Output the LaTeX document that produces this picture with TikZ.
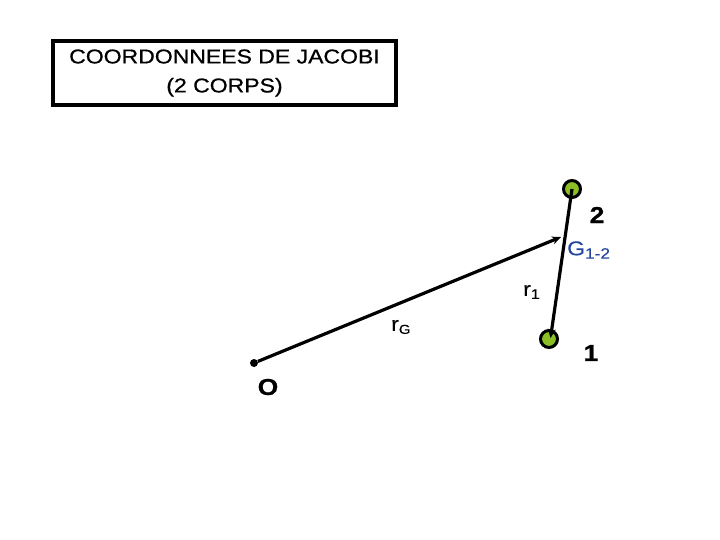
\documentclass[tikz,border=0pt]{standalone}
\usepackage{fontspec}
\setmainfont[FakeStretch=1.15,FakeBold=0.8]{Liberation Sans}
\newfontfamily\lblfont[FakeStretch=1.15,FakeBold=0.4]{Liberation Sans}
\usetikzlibrary{arrows.meta}
\definecolor{bodygreen}{HTML}{8CBF26}
\definecolor{gblue}{HTML}{2445A0}
\tikzset{
  body/.style={circle, draw=black, line width=3pt, fill=bodygreen, minimum size=17pt, inner sep=0pt},
  vec/.style={line width=3.2pt, -{Stealth[length=9pt,width=8pt]}},
  lbl/.style={inner sep=0pt, font=\lblfont\fontsize{20}{24}\selectfont},
  num/.style={inner sep=0pt, font=\fontsize{23}{26}\selectfont\bfseries}
}
\begin{document}
\begin{tikzpicture}[x=1pt,y=-1pt]
\useasboundingbox (0,0) rectangle (720,540);
\node[draw=black, line width=3.4pt, minimum width=343pt, minimum height=64pt, align=center, inner sep=0pt,
  font=\fontsize{20}{31}\selectfont] (title) at (224.5,73) {\raisebox{-2pt}{COORDONNEES DE JACOBI}\\(2 CORPS)};
\node[circle, fill=black, inner sep=0pt, minimum size=8pt] (O) at (254,363) {};
\node[body] (b2) at (572,189) {};
\node[body] (b1) at (549,339) {};
\coordinate (G) at (561,237);
\draw[vec] (O) -- (G);
\draw[vec] (b2.center) -- ([shift={(1.5,-1)}]b1.center);
\node[num] (l2) at (597,215) {2};
\node[num] (l1) at (591,353) {1};
\node[num] (lO) at (268,387) {O};
\node[lbl, text=gblue, anchor=west] (lG) at (567,250) {G\textsubscript{\fontsize{15}{15}\selectfont 1-2}};
\node[lbl, anchor=west] (lr1) at (523,292) {r\textsubscript{\fontsize{14}{14}\selectfont 1}};
\node[lbl, anchor=west] (lrG) at (391,327) {r\textsubscript{\fontsize{13}{13}\selectfont G}};
\end{tikzpicture}
\end{document}
